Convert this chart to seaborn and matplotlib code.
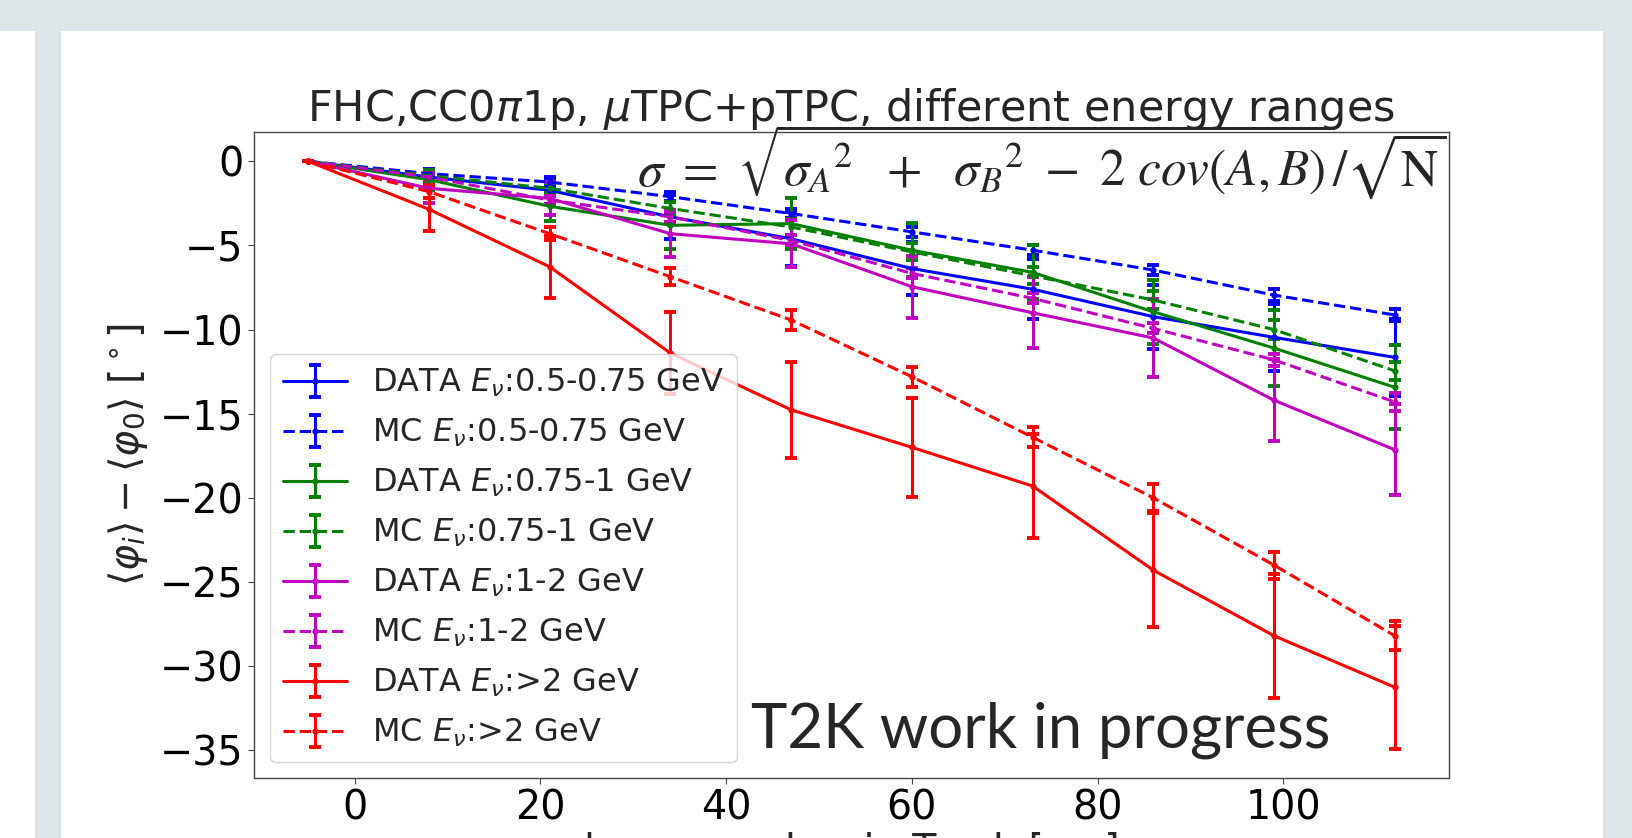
import matplotlib
matplotlib.use("Agg")
import matplotlib.pyplot as plt
from matplotlib.patches import Rectangle
import seaborn as sns

# track position of each segment
track_x = [-5, 8, 21, 34, 47, 60, 73, 86, 99, 112]

data_lo = [0, -0.93, -1.72, -3.3, -4.6, -6.37, -7.6, -9.23, -10.46, -11.65]
data_lo_err = [0, 0.5, 0.8, 1.3, 1.6, 1.6, 1.8, 1.9, 2.0, 2.3]
mc_lo = [0, -0.73, -1.23, -2.1, -3.1, -4.19, -5.28, -6.46, -7.95, -9.13]
mc_lo_err = [0, 0.2, 0.25, 0.25, 0.28, 0.3, 0.3, 0.3, 0.37, 0.37]

data_mid = [0, -1.09, -2.67, -3.8, -3.7, -5.28, -6.6, -8.94, -11.1, -13.43]
data_mid_err = [0, 0.6, 0.9, 1.4, 1.5, 1.6, 1.6, 1.9, 2.25, 2.5]
mc_mid = [0, -0.85, -1.6, -2.8, -3.9, -5.38, -6.8, -8.24, -10.0, -12.45]
mc_mid_err = [0, 0.3, 0.3, 0.4, 0.45, 0.5, 0.5, 0.55, 0.55, 0.55]

data_hi = [0, -1.6, -2.2, -4.3, -4.9, -7.45, -9.0, -10.5, -14.2, -17.14]
data_hi_err = [0, 0.9, 1.0, 1.4, 1.4, 1.85, 2.1, 2.3, 2.45, 2.7]
mc_hi = [0, -0.93, -2.3, -3.3, -4.7, -6.66, -8.14, -9.93, -11.8, -14.3]
mc_hi_err = [0, 0.2, 0.25, 0.3, 0.3, 0.3, 0.3, 0.3, 0.35, 0.55]

data_top = [0, -2.85, -6.27, -11.4, -14.77, -17.0, -19.3, -24.3, -28.2, -31.26]
data_top_err = [0, 1.3, 1.85, 2.45, 2.87, 2.95, 3.1, 3.4, 3.7, 3.65]
mc_top = [0, -1.8, -4.3, -6.86, -9.43, -12.8, -16.4, -20.0, -24.0, -28.2]
mc_top_err = [0, 0.4, 0.4, 0.5, 0.58, 0.6, 0.6, 0.8, 0.8, 0.85]

labels = [r"DATA $E_{\nu}$:0.5-0.75 GeV", r"MC $E_{\nu}$:0.5-0.75 GeV",
          r"DATA $E_{\nu}$:0.75-1 GeV", r"MC $E_{\nu}$:0.75-1 GeV",
          r"DATA $E_{\nu}$:1-2 GeV", r"MC $E_{\nu}$:1-2 GeV",
          r"DATA $E_{\nu}$:>2 GeV", r"MC $E_{\nu}$:>2 GeV"]
series = [(data_lo, data_lo_err), (mc_lo, mc_lo_err),
          (data_mid, data_mid_err), (mc_mid, mc_mid_err),
          (data_hi, data_hi_err), (mc_hi, mc_hi_err),
          (data_top, data_top_err), (mc_top, mc_top_err)]
colors = ["b", "b", "g", "g", "m", "m", "r", "r"]
styles = ["-", "--"] * 4

sns.set_style("ticks")
plt.rcParams["font.family"] = ["DejaVu Sans"]

W, H = 1632, 838
fig = plt.figure(figsize=(W / 100, H / 100), dpi=100, facecolor="#dbe5ea")

# slide panels behind the plot
fig.patches.append(Rectangle((0, 0), 35 / W, 1 - 31 / H, transform=fig.transFigure,
                             facecolor="white", edgecolor="none", zorder=-1))
fig.patches.append(Rectangle((61 / W, 0), (1603 - 61) / W, 1 - 31 / H,
                             transform=fig.transFigure, facecolor="white",
                             edgecolor="none", zorder=-1))

ax = fig.add_axes([254 / W, 1 - 778 / H, (1449 - 254) / W, (778 - 132) / H])

for (y, e), lab, c, ls in zip(series, labels, colors, styles):
    ax.errorbar(track_x, y, yerr=e, color=c, ls=ls, marker=".", ms=7,
                lw=2.2, elinewidth=2.2, capsize=4, capthick=2.8, label=lab)

for s in ax.spines.values():
    s.set_color("#444444")
    s.set_linewidth(1.0)
ax.tick_params(labelsize=28.5, colors="black", length=4, width=0.8)
ax.tick_params(axis="both", color="#444444")

ax.set_title(r"FHC,CC0$\pi$1p, $\mu$TPC+pTPC, different energy ranges",
             fontsize=31, pad=7)
ax.set_ylabel(r"$\langle \varphi_i \rangle - \langle \varphi_0 \rangle$ [$^\circ$]",
              fontsize=28.5)
ax.yaxis.set_label_coords(-0.087, 0.5)
ax.set_xlabel("layer number in Track [cm]", fontsize=28.5)
ax.xaxis.set_label_coords(0.5, -0.083)

ax.legend(loc="lower left", fontsize=23, labelspacing=0.55)

fig.text(637 / W, 1 - 186 / H,
         r"$\sigma\ =\ \sqrt{{\sigma_A}^2\ \ +\ \ {\sigma_B}^2\ -\ 2\ cov(A,B)}/\sqrt{\mathrm{N}}$",
         fontsize=37, math_fontfamily="stix", ha="left", va="baseline")
fig.text(751 / W, 1 - 747 / H, "T2K work in progress", fontsize=44.5,
         family="Lato", ha="left", va="baseline")

fig.savefig("out.png", dpi=100, facecolor=fig.get_facecolor())
